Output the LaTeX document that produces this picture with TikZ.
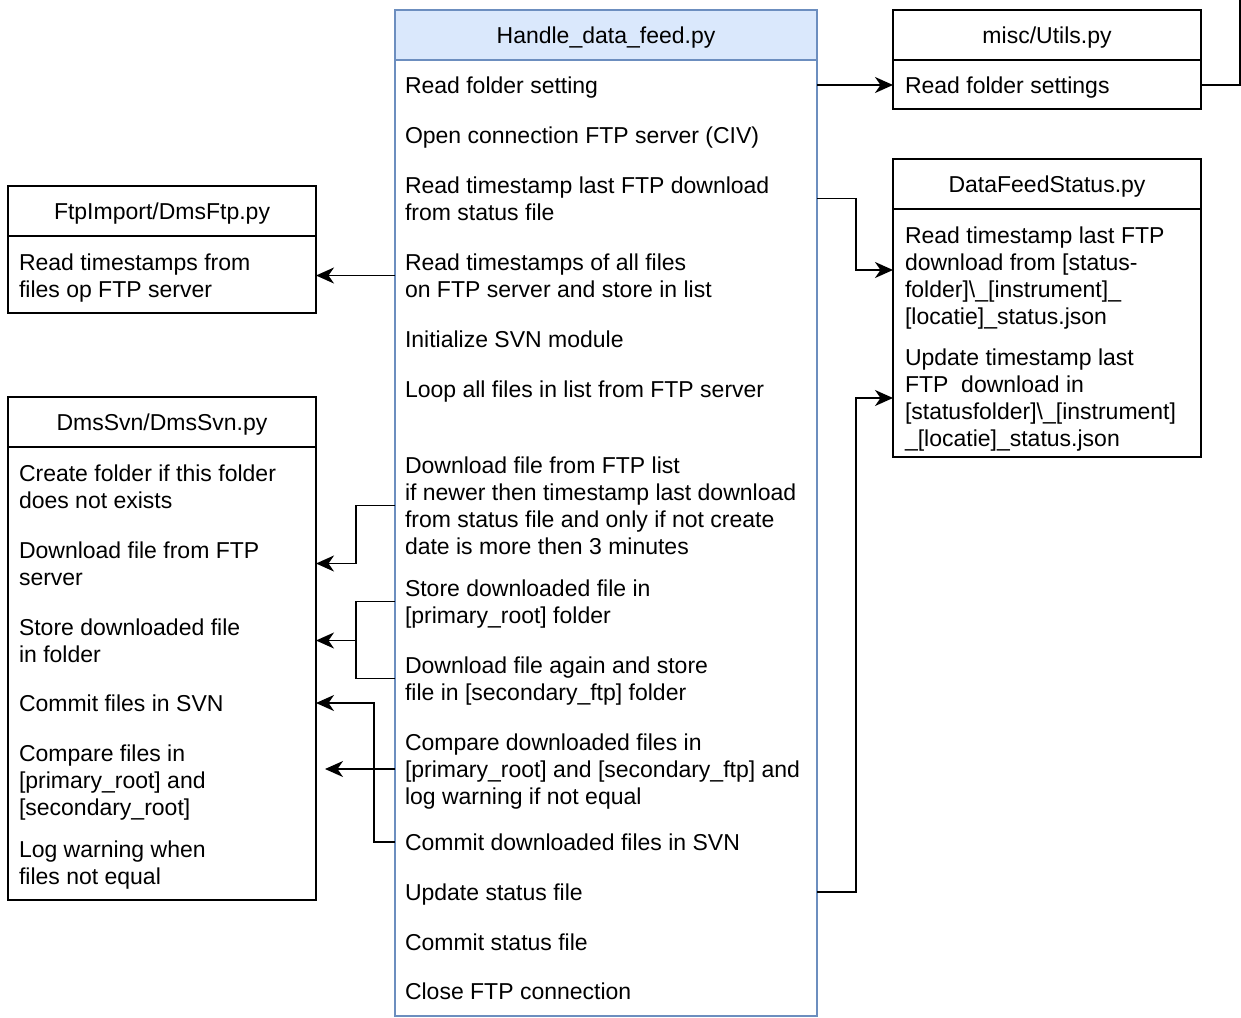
\documentclass[tikz,border=0pt]{standalone}
\usepackage{fontspec}
\setmainfont{Liberation Sans}
\usetikzlibrary{arrows.meta}
% strut whose centre sits on the cap-height centre of a line
\newcommand\rowstrut{\rule[-5.3pt]{0pt}{27pt}}
\definecolor{mainstroke}{HTML}{6C8EBF}
\definecolor{mainfill}{HTML}{DAE8FC}
\begin{document}
\begin{tikzpicture}[x=1pt,y=-1pt,
  every node/.style={inner sep=0pt, outer sep=0pt},
  txt/.style={font=\fontsize{23pt}{27pt}\selectfont, align=left, anchor=west,
    execute at end node=\rowstrut},
  title/.style={font=\fontsize{23pt}{27pt}\selectfont, anchor=center},
  panel/.style={draw=black, line width=1.9pt, anchor=north west, minimum width=308pt},
  mainpanel/.style={draw=mainstroke, line width=1.8pt, anchor=north west, minimum width=422pt},
  wire/.style={draw=black, line width=1.8pt},
  arr/.style={wire, -{Stealth[length=18pt, width=16pt, inset=5.5pt]}}
]
\useasboundingbox (0,0) rectangle (1241,1017);

% ---------- Handle_data_feed.py ----------
\node[mainpanel, fill=mainfill, minimum height=50pt] (mainH) at (395,10) {};
\node[mainpanel, minimum height=956pt] (main) at (395,60) {};
\node[title] (mainT) at (mainH.center) {\rowstrut Handle\_data\_feed.py};
\node[txt] (m1)  at (405,85)    {\rowstrut Read folder setting};
\node[txt] (m2)  at (405,135)   {\rowstrut Open connection FTP server (CIV)};
\node[txt] (m3)  at (405,198.5) {\rowstrut Read timestamp last FTP download\\from status file};
\node[txt] (m4)  at (405,275.5) {\rowstrut Read timestamps of all files\\on FTP server and store in list};
\node[txt] (m5)  at (405,339)   {\rowstrut Initialize SVN module};
\node[txt] (m6)  at (405,389)   {\rowstrut Loop all files in list from FTP server};
\node[txt] (m7)  at (405,505.5) {\rowstrut Download file from FTP list\\if newer then timestamp last download\\from status file and only if not create\\date is more then 3 minutes};
\node[txt] (m8)  at (405,601.5) {\rowstrut Store downloaded file in\\{[}primary\_root{]} folder};
\node[txt] (m9)  at (405,678.5) {\rowstrut Download file again and store\\file in [secondary\_ftp] folder};
\node[txt] (m10) at (405,769)   {\rowstrut Compare downloaded files in\\{[}primary\_root{]} and [secondary\_ftp] and\\log warning if not equal};
\node[txt] (m11) at (405,842)   {\rowstrut Commit downloaded files in SVN};
\node[txt] (m12) at (405,892)   {\rowstrut Update status file};
\node[txt] (m13) at (405,942)   {\rowstrut Commit status file};
\node[txt] (m14) at (405,991)   {\rowstrut Close FTP connection};

% ---------- FtpImport/DmsFtp.py ----------
\node[panel, minimum height=50pt] (ftpH) at (8,186) {};
\node[panel, minimum height=77pt] (ftp) at (8,236) {};
\node[title] (ftpT) at (ftpH.center) {\rowstrut FtpImport/DmsFtp.py};
\node[txt] (ftp1) at (19,275.5) {\rowstrut Read timestamps from\\files op FTP server};

% ---------- DmsSvn/DmsSvn.py ----------
\node[panel, minimum height=50pt] (svnH) at (8,397) {};
\node[panel, minimum height=453pt] (svn) at (8,447) {};
\node[title] (svnT) at (svnH.center) {\rowstrut DmsSvn/DmsSvn.py};
\node[txt] (svn1) at (19,486.5) {\rowstrut Create folder if this folder\\does not exists};
\node[txt] (svn2) at (19,563.5) {\rowstrut Download file from FTP\\server};
\node[txt] (svn3) at (19,640.5) {\rowstrut Store downloaded file\\in folder};
\node[txt] (svn4) at (19,703)   {\rowstrut Commit files in SVN};
\node[txt] (svn5) at (19,780)   {\rowstrut Compare files in\\{[}primary\_root{]} and\\{[}secondary\_root{]}};
\node[txt] (svn6) at (19,862.5) {\rowstrut Log warning when\\files not equal};

% ---------- misc/Utils.py ----------
\node[panel, minimum height=50pt] (utH) at (893,10) {};
\node[panel, minimum height=49pt] (ut) at (893,60) {};
\node[title] (utT) at (utH.center) {\rowstrut misc/Utils.py};
\node[txt] (ut1) at (905,85) {\rowstrut Read folder settings};

% ---------- DataFeedStatus.py ----------
\node[panel, minimum height=50pt] (dsH) at (893,159) {};
\node[panel, minimum height=248pt] (ds) at (893,209) {};
\node[title] (dsT) at (dsH.center) {\rowstrut DataFeedStatus.py};
\node[txt] (ds1) at (905,275.5) {\rowstrut Read timestamp last FTP\\download from [status-\\folder]\textbackslash\_[instrument]\_\\{[}locatie{]}\_status.json};
\node[txt] (ds2) at (905,398) {\rowstrut Update timestamp last\\FTP\ \ download in\\{[}statusfolder{]}\textbackslash\_[instrument]\\\_[locatie]\_status.json};

% ---------- connectors ----------
\coordinate (exitTop) at (1240,0);
\draw[arr] (m1 -| main.east) -- (ut1 -| ut.west);
\draw[wire] (ut1 -| ut.east) -| (exitTop);
\draw[arr] (m3 -| main.east) -- ++(39,0) |- ([yshift=5.5pt]ds1 -| ds.west);
\draw[arr] (m12 -| main.east) -- ++(39,0) |- (ds2 -| ds.west);

\draw[arr] (m4 -| main.west) -- (ftp1 -| ftp.east);
\draw[arr] (m7 -| main.west) -- ++(-39,0) |- (svn2 -| svn.east);
\draw[wire] (m8 -| main.west) -- ++(-39,0) coordinate (fork) |- (m9 -| main.west);
\draw[arr] (fork |- svn3) -- (svn3 -| svn.east);
\draw[arr] (m11 -| main.west) -- ++(-21,0) |- (svn4 -| svn.east);
\draw[arr] (m10 -| main.west) -- ([xshift=9pt]m10 -| svn.east);
\end{tikzpicture}
\end{document}
